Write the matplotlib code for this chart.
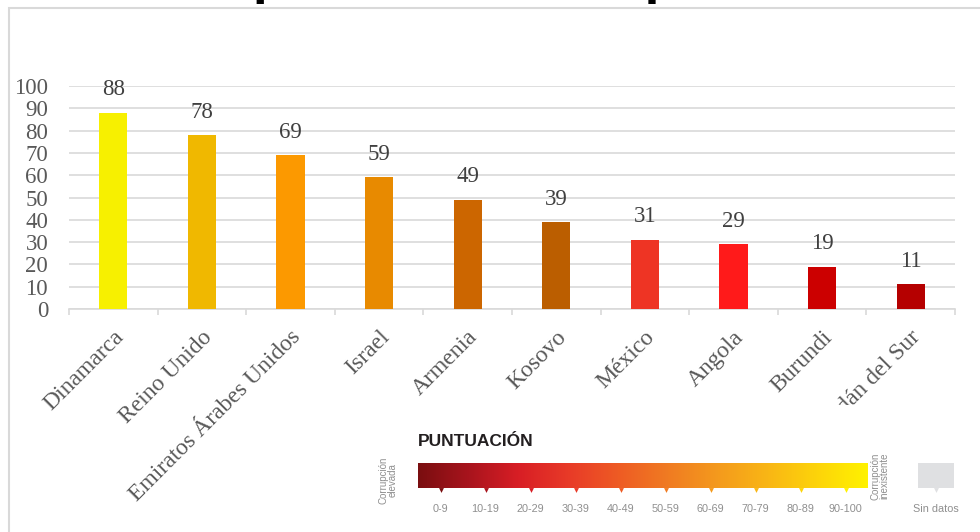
import numpy as np
import matplotlib
matplotlib.use("Agg")
import matplotlib.pyplot as plt
from matplotlib.colors import LinearSegmentedColormap
from matplotlib.patches import Rectangle

# chart data
countries = ["Dinamarca", "Reino Unido", "Emiratos Árabes Unidos", "Israel", "Armenia",
             "Kosovo", "México", "Angola", "Burundi", "Sudán del Sur"]
scores = [88, 78, 69, 59, 49, 39, 31, 29, 19, 11]
bar_colors = ["#f7f000", "#f0b800", "#fc9900", "#e88a00", "#cc6600",
              "#bb5e00", "#ee3424", "#ff1a1a", "#cc0000", "#b50000"]
y_ticks = list(range(0, 101, 10))

# legend (score scale) data
scale_labels = ["0-9", "10-19", "20-29", "30-39", "40-49",
                "50-59", "60-69", "70-79", "80-89", "90-100"]
scale_colors = ["#7a0e10", "#a8141d", "#d81e25", "#e83a28", "#ee5b24",
                "#f07b22", "#f49a1d", "#f9b615", "#fdd40a", "#fff200"]

W, H = 980, 532
fig = plt.figure(figsize=(W / 100, H / 100), dpi=100)
fig.patch.set_facecolor("white")

SERIF = ["Liberation Serif", "DejaVu Serif"]
NARROW = ["Liberation Sans Narrow", "Liberation Sans", "DejaVu Sans"]

# outer frame (top/left visible only)
fig.add_artist(Rectangle((9 / W, -0.2), 2.0, 1.2 - 8 / H, transform=fig.transFigure,
                         fill=False, edgecolor="#d9d9d9", lw=1.5))

# title, mostly cut off at the top of the picture (as in the source)
fig.text(122 / W, 1 + 4.5 / H, "Percepción de la corrupción", fontsize=29.7,
         fontweight="bold", family="DejaVu Sans", ha="left", va="baseline", color="black")

# main bar chart
ax = fig.add_axes([69 / W, 1 - 309 / H, (955 - 69) / W, (309 - 86) / H])
x = np.arange(len(countries))
ax.bar(x, scores, width=0.32, color=bar_colors, zorder=3)
ax.set_xlim(-0.5, len(countries) - 0.5)
ax.set_ylim(0, 100)

ax.set_yticks(y_ticks)
ax.set_yticklabels([str(v) for v in y_ticks], family=SERIF, fontsize=16.5, color="#595959")
ax.tick_params(axis="y", length=0, pad=15)
ax.grid(axis="y", color="#d9d9d9", lw=1.2, zorder=0)

ax.set_xticks(x)
ax.set_xticklabels([])
ax.set_xticks(np.arange(-0.5, len(countries)), minor=True)
ax.tick_params(axis="x", which="major", length=0)
ax.tick_params(axis="x", which="minor", length=4, width=1.2, color="#d9d9d9", direction="out")

for side in ["top", "right", "left"]:
    ax.spines[side].set_visible(False)
ax.spines["bottom"].set_color("#d9d9d9")
ax.spines["bottom"].set_linewidth(1.2)

for xi, v in zip(x, scores):
    ax.annotate(str(v), (xi, v), xytext=(0, 16.5), textcoords="offset points",
                ha="center", va="center", family=SERIF, fontsize=16.5, color="#404040")

for xi, name in zip(x, countries):
    ax.annotate(name, (xi, 0), xytext=(5, -18), textcoords="offset points",
                ha="right", va="center", rotation=45, rotation_mode="anchor",
                family=SERIF, fontsize=17, color="#595959", annotation_clip=False)

# legend image (white panel over the lower right corner)
lx0, lx1, ly0, ly1 = 365, 975, 405, 525
lax = fig.add_axes([lx0 / W, 1 - ly1 / H, (lx1 - lx0) / W, (ly1 - ly0) / H], zorder=5)
lax.set_xlim(lx0, lx1)
lax.set_ylim(ly1, ly0)
lax.set_axis_off()
lax.add_patch(Rectangle((lx0, ly0), lx1 - lx0, ly1 - ly0, fc="white", ec="none", zorder=0))

bx0, bx1, by0, by1 = 418, 868, 463, 488
cmap = LinearSegmentedColormap.from_list("cpi", scale_colors)
lax.imshow(np.linspace(0, 1, 256)[None, :], cmap=cmap, aspect="auto",
           extent=(bx0, bx1, by1, by0), zorder=2)

seg = (bx1 - bx0) / len(scale_labels)
for i, (lab, col) in enumerate(zip(scale_labels, scale_colors)):
    cx = bx0 + seg * (i + 0.5)
    lax.plot(cx, by1 + 1.5, marker="v", ms=3.5, color=col, mec="none", zorder=3)
    lax.text(cx, 509, lab, ha="center", va="center", family=NARROW,
             fontsize=7.8, color="#8f8f8f")

lax.text(bx0, 442, "PUNTUACIÓN", ha="left", va="center", family=NARROW,
         fontsize=12.5, fontweight="bold", color="#231f20")
lax.text(388, 480, "Corrupción\nelevada", ha="center", va="center", rotation=90,
         family=NARROW, fontsize=7, color="#8f8f8f", linespacing=0.9)
lax.text(880, 476, "Corrupción\ninexistente", ha="center", va="center", rotation=90,
         family=NARROW, fontsize=7, color="#8f8f8f", linespacing=0.9)

lax.add_patch(Rectangle((918, by0), 36, by1 - by0, fc="#dfe0e2", ec="none", zorder=2))
lax.plot(936, by1 + 1.5, marker="v", ms=3.5, color="#dfe0e2", mec="none", zorder=3)
lax.text(936, 509, "Sin datos", ha="center", va="center", family=NARROW,
         fontsize=7.8, color="#8f8f8f")

fig.savefig("out.png", dpi=100, facecolor="white")
